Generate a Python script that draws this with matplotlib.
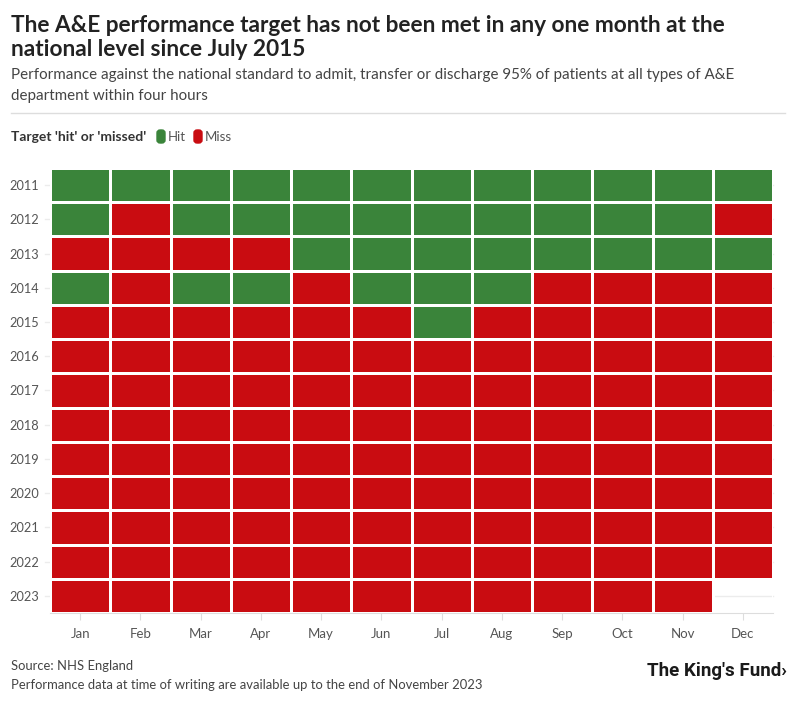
import matplotlib
matplotlib.use("Agg")
import matplotlib.pyplot as plt
import numpy as np
from matplotlib.colors import ListedColormap
from matplotlib.patches import FancyBboxPatch

months = ["Jan", "Feb", "Mar", "Apr", "May", "Jun", "Jul", "Aug", "Sep", "Oct", "Nov", "Dec"]
years = [2011, 2012, 2013, 2014, 2015, 2016, 2017, 2018, 2019, 2020, 2021, 2022, 2023]

# 1 = target hit, 0 = missed, None = no data yet
hit_2011 = [1, 1, 1, 1, 1, 1, 1, 1, 1, 1, 1, 1]
hit_2012 = [1, 0, 1, 1, 1, 1, 1, 1, 1, 1, 1, 0]
hit_2013 = [0, 0, 0, 0, 1, 1, 1, 1, 1, 1, 1, 1]
hit_2014 = [1, 0, 1, 1, 0, 1, 1, 1, 0, 0, 0, 0]
hit_2015 = [0, 0, 0, 0, 0, 0, 1, 0, 0, 0, 0, 0]
hit_2016 = [0] * 12
hit_2017 = [0] * 12
hit_2018 = [0] * 12
hit_2019 = [0] * 12
hit_2020 = [0] * 12
hit_2021 = [0] * 12
hit_2022 = [0] * 12
hit_2023 = [0, 0, 0, 0, 0, 0, 0, 0, 0, 0, 0, None]

rows = [hit_2011, hit_2012, hit_2013, hit_2014, hit_2015, hit_2016, hit_2017,
        hit_2018, hit_2019, hit_2020, hit_2021, hit_2022, hit_2023]

GREEN = "#3a843a"
RED = "#c90c11"
FONT = ["Lato", "DejaVu Sans"]

plt.rcParams["font.family"] = FONT

grid = np.array([[np.nan if v is None else v for v in r] for r in rows], dtype=float)
grid = np.ma.masked_invalid(grid)

fig = plt.figure(figsize=(7.96, 7.03), dpi=100)
ax = fig.add_axes([50 / 796, 90 / 703, 723 / 796, 445 / 703])

# faint horizontal gridlines, running a little left of the cells
for i in range(len(years)):
    ax.plot([-0.58, len(months) - 0.5], [i, i], color="#ececec", lw=1, zorder=0,
            clip_on=False)
ax.axvline(-0.5, color="#ececec", lw=1, zorder=0)

x_edges = np.arange(len(months) + 1) - 0.5
y_edges = np.arange(len(years) + 1) - 0.5
ax.pcolormesh(x_edges, y_edges, grid, cmap=ListedColormap([RED, GREEN]),
              vmin=0, vmax=1, edgecolors="white", linewidth=2, zorder=2)

ax.set_xlim(-0.5, len(months) - 0.5)
ax.set_ylim(len(years) - 0.5, -0.5)
ax.set_xticks(range(len(months)))
ax.set_xticklabels(months)
ax.set_yticks(range(len(years)))
ax.set_yticklabels([str(y) for y in years])
ax.tick_params(axis="x", length=5, color="#dddddd", colors="#555555", labelsize=9.5, pad=6)
ax.tick_params(axis="y", length=0, colors="#555555", labelsize=9.2, pad=8)
for side in ["top", "right", "left"]:
    ax.spines[side].set_visible(False)
ax.spines["bottom"].set_color("#dddddd")

# header
fig.text(11 / 796, 1 - 25 / 703, "The A&E performance target has not been met in any one month at the",
         fontsize=16.3, fontweight="bold", color="#222222", va="center")
fig.text(11 / 796, 1 - 50 / 703, "national level since July 2015",
         fontsize=16.3, fontweight="bold", color="#222222", va="center")
fig.text(11 / 796, 1 - 75 / 703,
         "Performance against the national standard to admit, transfer or discharge 95% of patients at all types of A&E",
         fontsize=10.9, color="#444444", va="center")
fig.text(11 / 796, 1 - 96 / 703, "department within four hours",
         fontsize=10.9, color="#444444", va="center")
fig.add_artist(plt.Line2D([11 / 796, 785 / 796], [1 - 113 / 703, 1 - 113 / 703],
                          color="#dddddd", lw=1))

# legend
ly = 1 - 137 / 703
fig.text(11 / 796, ly, "Target 'hit' or 'missed'", fontsize=10, fontweight="bold",
         color="#333333", va="center")
for x0, col, lab in [(157, GREEN, "Hit"), (194, RED, "Miss")]:
    fig.add_artist(FancyBboxPatch((x0 / 796, ly - 6 / 703), 8 / 796, 13 / 703,
                                  boxstyle="round,pad=0,rounding_size=0.004",
                                  transform=fig.transFigure, color=col))
    fig.text((x0 + 11) / 796, ly, lab, fontsize=9.5, color="#555555", va="center")

# footer
fig.text(11 / 796, 1 - 666 / 703, "Source: NHS England", fontsize=9.4, color="#444444", va="center")
fig.text(11 / 796, 1 - 685 / 703,
         "Performance data at time of writing are available up to the end of November 2023",
         fontsize=9.4, color="#444444", va="center")
fig.text(787 / 796, 1 - 671 / 703, "The King's Fund\u203a", fontsize=13.5, fontweight="bold",
         color="#1a1a1a", ha="right", va="center", family=["Roboto", "DejaVu Sans"])

fig.savefig("out.png", dpi=100)
